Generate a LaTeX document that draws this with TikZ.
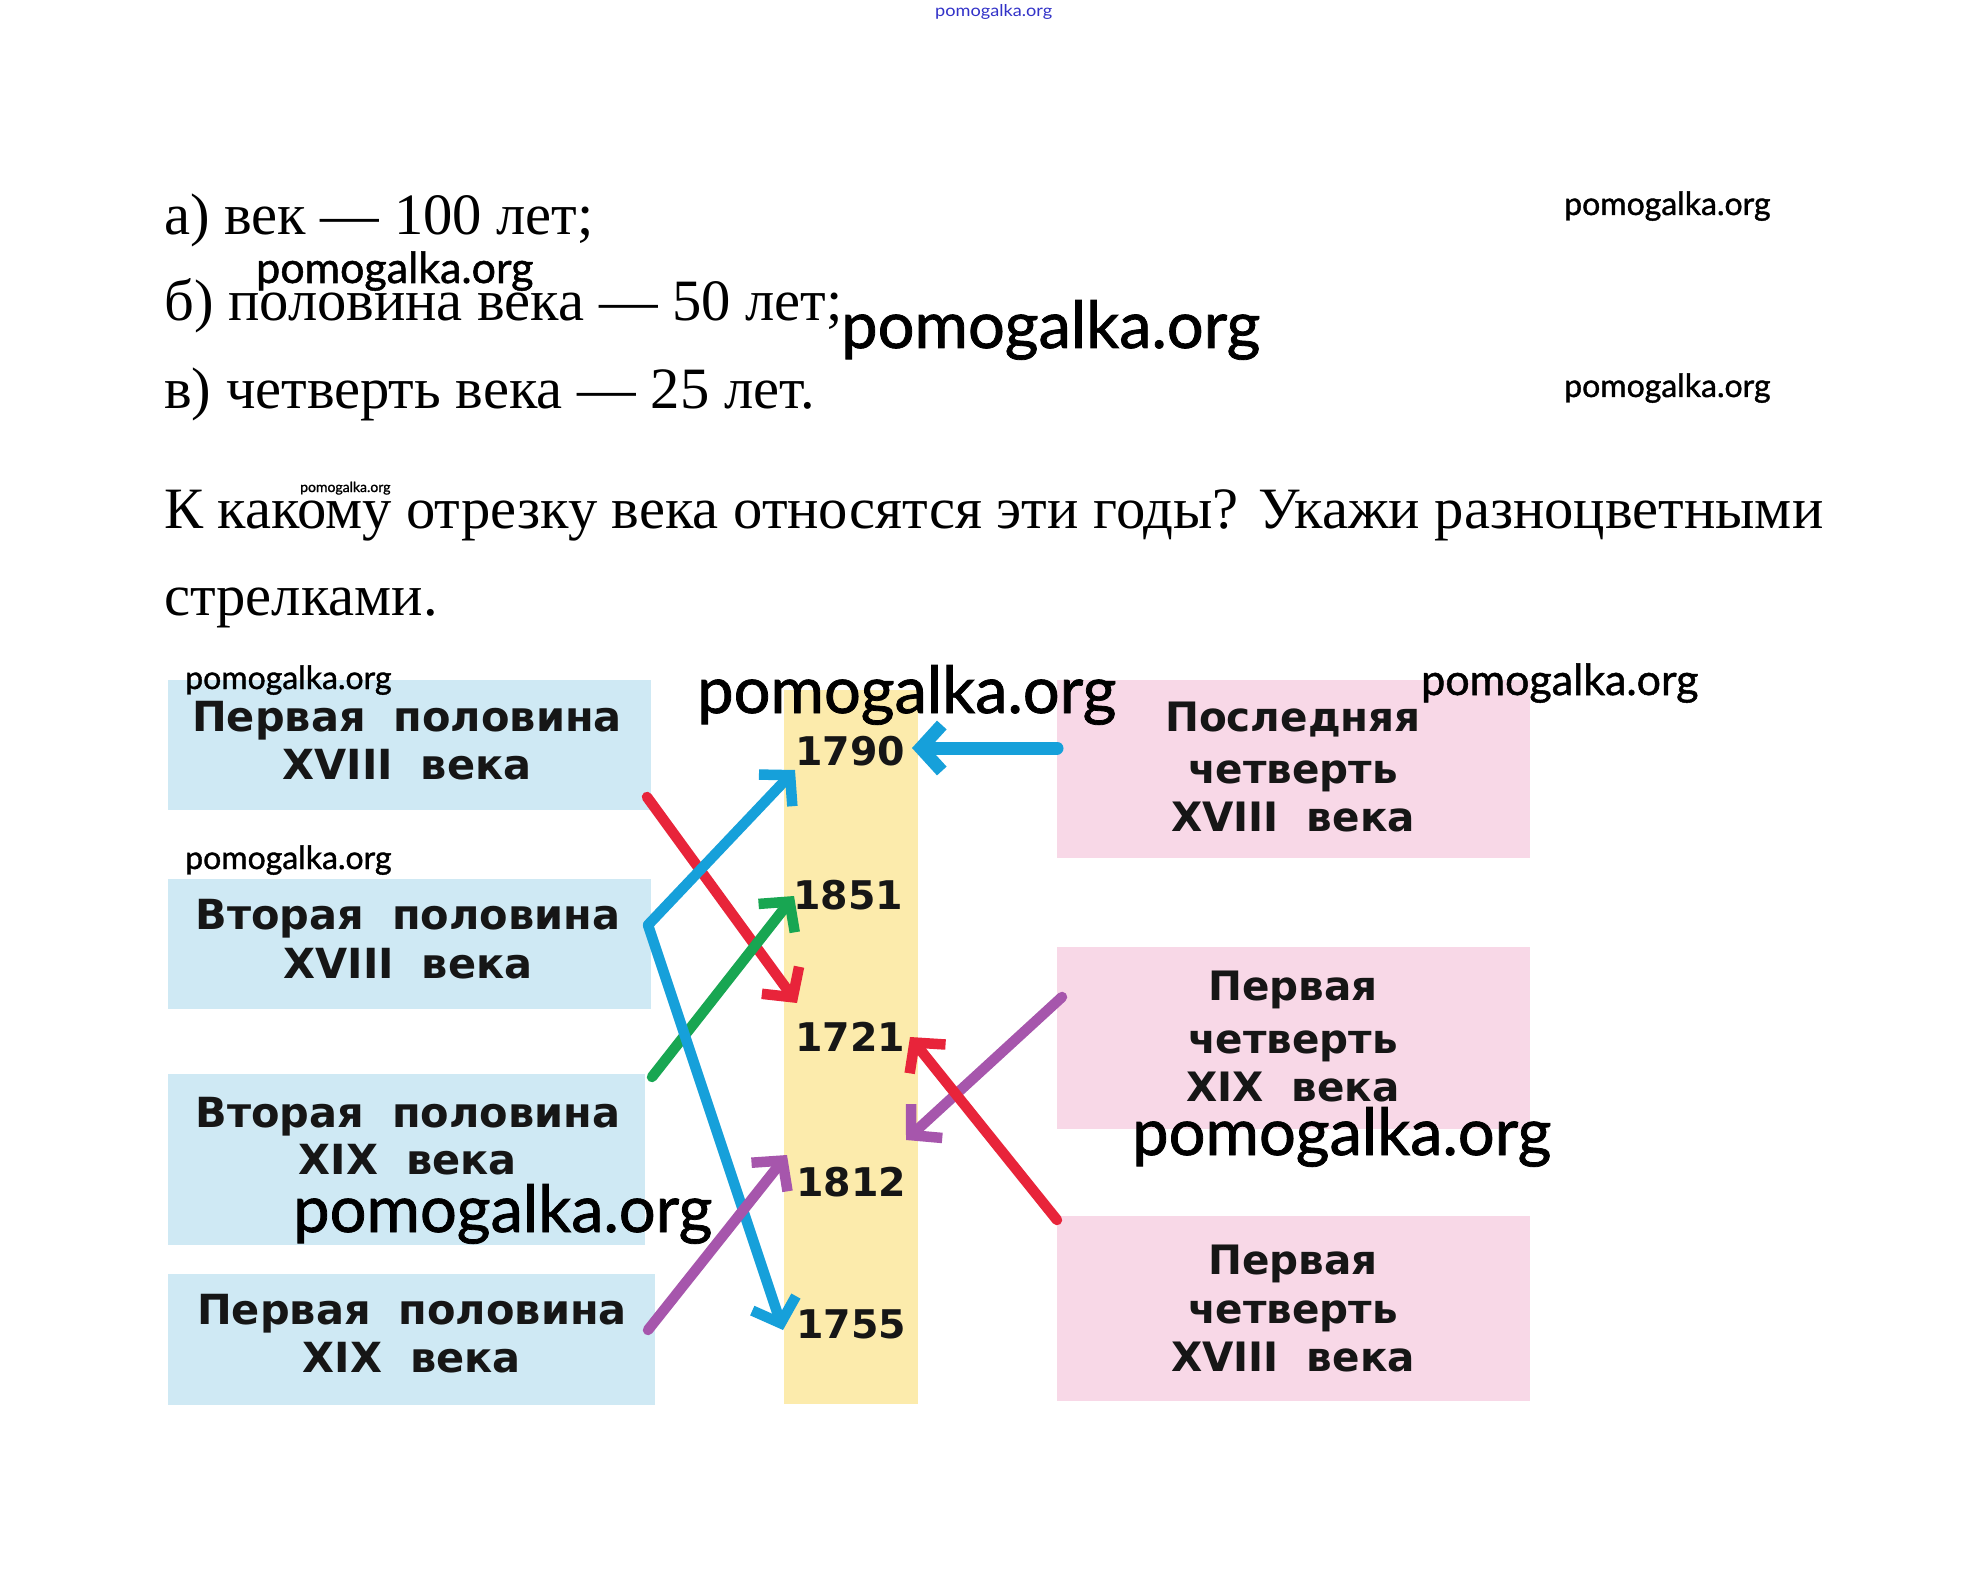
\documentclass[tikz,border=0pt]{standalone}
\usepackage{fontspec}
\usetikzlibrary{arrows.meta}
\newfontfamily\tnr{Liberation Serif}
\newfontfamily\dvs{DejaVu Sans}
\newfontfamily\lato{Lato}[FakeBold=1.2]
\newfontfamily\latot{Lato}
\definecolor{boxblue}{RGB}{207,233,244}
\definecolor{boxpink}{RGB}{248,216,231}
\definecolor{colyellow}{RGB}{252,235,172}
\definecolor{acyan}{RGB}{22,160,218}
\definecolor{ared}{RGB}{232,36,58}
\definecolor{agreen}{RGB}{24,166,82}
\definecolor{apurple}{RGB}{166,86,172}
\definecolor{wmblue}{RGB}{50,50,200}
\definecolor{inkdark}{RGB}{22,22,22}
\newcommand\gp{\hspace*{28pt}}
\begin{document}
\begin{tikzpicture}[x=1pt,y=-1pt,
  serif/.style={anchor=base west,inner sep=0pt,font=\tnr\fontsize{58.6}{70}\selectfont},
  wm/.style={anchor=base west,inner sep=0pt,text=black},
  wmbig/.style={wm,font=\lato\fontsize{65}{65}\selectfont},
  wmmid/.style={wm,font=\lato\fontsize{43}{43}\selectfont},
  wmsml/.style={wm,font=\lato\fontsize{32}{32}\selectfont},
  bline/.style={anchor=base,inner sep=0pt,text=inkdark,font=\dvs\bfseries\fontsize{41.5}{47}\selectfont},
  rline/.style={anchor=base,inner sep=0pt,text=inkdark,font=\dvs\bfseries\fontsize{40.5}{47}\selectfont},
  yr/.style={anchor=base,inner sep=0pt,text=inkdark,font=\dvs\bfseries\fontsize{39.5}{46}\selectfont},
  lbox/.style={fill=boxblue,draw=none,inner sep=0pt,minimum width=483pt,minimum height=130pt},
  rbox/.style={fill=boxpink,draw=none,inner sep=0pt,minimum width=473pt},
  arr/.style={line width=10.5pt,line cap=round,-{Straight Barb[length=21pt,width=46pt]}}
]
\useasboundingbox (0,0) rectangle (1987,1578);
\fill[white] (0,0) rectangle (1987,1578);

% top tiny watermark
\node[anchor=base west,inner sep=0pt,text=wmblue] (w0) at (935,17) {\resizebox{117pt}{12pt}{\latot pomogalka.org}};

% serif text
\node[serif] (ta) at (164,235) {а) век — 100 лет;};
\node[serif] (tb) at (164,321) {б) половина века — 50 лет;};
\node[serif] (tc) at (164,409) {в) четверть века — 25 лет.};
\node[serif] (td) at (164,528) {К какому отрезку века относятся эти годы? Укажи разноцветными};
\node[serif] (te) at (164,615) {стрелками.};

% boxes
\node[lbox] (L1) at (409.5,745) {};
\node[lbox] (L2) at (409.5,944) {};
\node[lbox,minimum width=477pt,minimum height=171pt] (L3) at (406.5,1159.5) {};
\node[lbox,minimum width=487pt,minimum height=131pt] (L4) at (411.5,1339.5) {};
\node[fill=colyellow,draw=none,inner sep=0pt,minimum width=134pt,minimum height=714pt] (Y) at (851,1047) {};
\node[rbox,minimum height=178pt] (R1) at (1293.5,769) {};
\node[rbox,minimum height=182pt] (R2) at (1293.5,1038) {};
\node[rbox,minimum height=185pt] (R3) at (1293.5,1308.5) {};

% box texts
\node[bline] (L1a) at (407,731) {Первая\gp половина};
\node[bline] (L1b) at (407,779) {XVIII\gp века};
\node[bline] (L2a) at (408,929) {Вторая\gp половина};
\node[bline] (L2b) at (408,978) {XVIII\gp века};
\node[bline] (L3a) at (408,1127) {Вторая\gp половина};
\node[bline] (L3b) at (408,1174) {XIX\gp века};
\node[bline] (L4a) at (412,1324) {Первая\gp половина};
\node[bline] (L4b) at (412,1372) {XIX\gp века};

\node[rline] (R1a) at (1293,731) {Последняя};
\node[rline] (R1b) at (1293,783) {четверть};
\node[rline] (R1c) at (1293,831) {XVIII\gp века};
\node[rline] (R2a) at (1293,1000) {Первая};
\node[rline] (R2b) at (1293,1053) {четверть};
\node[rline] (R2c) at (1293,1101) {XIX\gp века};
\node[rline] (R3a) at (1293,1274) {Первая};
\node[rline] (R3b) at (1293,1323) {четверть};
\node[rline] (R3c) at (1293,1371) {XVIII\gp века};

% years
\node[yr] (y1790) at (850,765) {1790};
\node[yr] (y1851) at (848,909) {1851};
\node[yr] (y1721) at (850,1051) {1721};
\node[yr] (y1812) at (851,1196) {1812};
\node[yr] (y1755) at (851,1338) {1755};

% arrow end points
\coordinate (cA) at (1057,748);
\coordinate (cAt) at (912,748);
\coordinate (cV) at (648,925);
\coordinate (cUt) at (795,770);
\coordinate (cDt) at (783,1330);
\coordinate (rA) at (647,797);
\coordinate (rAt) at (797,1003);
\coordinate (gA) at (652,1077);
\coordinate (gAt) at (794,896);
\coordinate (pA) at (648,1330);
\coordinate (pAt) at (787,1155);
\coordinate (pB) at (1062,997);
\coordinate (pBt) at (906,1140);
\coordinate (rB) at (1057,1220);
\coordinate (rBt) at (910,1037);

% arrows
\draw[arr,acyan,line width=13pt] (cA) -- (cAt);
\draw[arr,ared] (rA) -- (rAt);
\draw[arr,acyan] (cV) -- (cUt);
\draw[arr,agreen] (gA) -- (gAt);
\draw[arr,acyan] (cV) -- (cDt);
\draw[arr,apurple] (pA) -- (pAt);
\draw[arr,apurple] (pB) -- (pBt);
\draw[arr,ared] (rB) -- (rBt);

% watermarks
\node[wmsml] (w1) at (1564,215) {pomogalka.org};
\node[wmmid] (w2) at (256,283) {pomogalka.org};
\node[wmbig] (w3) at (841,348) {pomogalka.org};
\node[wmsml] (w4) at (1564,397) {pomogalka.org};
\node[wm,font=\lato\fontsize{14}{14}\selectfont] (w5) at (300,492) {pomogalka.org};
\node[wmsml] (w6) at (185,689) {pomogalka.org};
\node[wmbig] (w7) at (697,713) {pomogalka.org};
\node[wmmid] (w8) at (1421,695) {pomogalka.org};
\node[wmsml] (w9) at (185,869) {pomogalka.org};
\node[wmbig] (w10) at (1132,1155) {pomogalka.org};
\node[wmbig] (w11) at (293,1232) {pomogalka.org};
\end{tikzpicture}
\end{document}
